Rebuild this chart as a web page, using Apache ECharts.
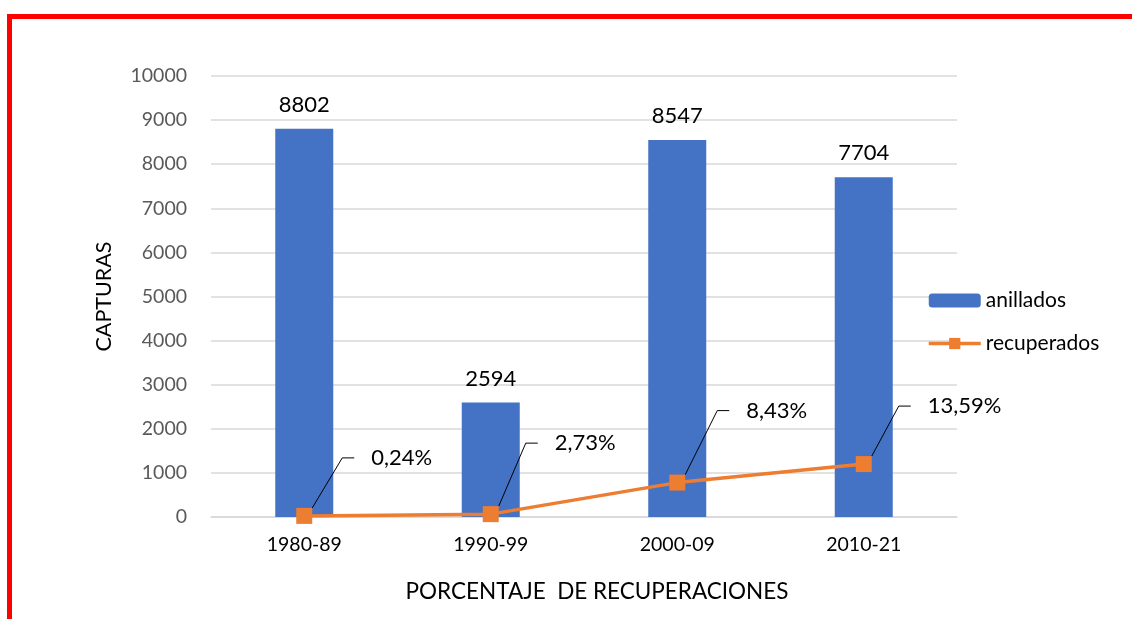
<!DOCTYPE html>
<html>
<head>
<meta charset="utf-8">
<script src="https://cdn.jsdelivr.net/npm/echarts@6/dist/echarts.min.js"></script>
<style>
  html, body { margin: 0; padding: 0; background: #fff; }
  #main { width: 1132px; height: 619px; position: relative; }
  .frame { position: absolute; left: 7px; top: 14px; width: 1200px; height: 700px;
           border-top: 5px solid #ff0000; border-left: 5px solid #ff0000; pointer-events: none; z-index: 5; }
</style>
</head>
<body>
<div style="position:relative;width:1132px;height:619px;overflow:hidden">
  <div id="main"></div>
  <div class="frame"></div>
</div>
<script>
// periodos
var categories = ['1980-89', '1990-99', '2000-09', '2010-21'];
// aves anilladas
var anillados = [8802, 2594, 8547, 7704];
// recuperadas
var recuperados = [25, 65, 780, 1200];
var porcentajes = ['0,24%', '2,73%', '8,43%', '13,59%'];
var yTicks = [0, 1000, 2000, 3000, 4000, 5000, 6000, 7000, 8000, 9000, 10000];

// desplazamiento de las etiquetas del porcentaje
var labelOffsets = [[37, -58], [34, -71], [39, -72], [34, -58]];

var myChart = echarts.init(document.getElementById('main'));
var font = 'Lato, "Open Sans", sans-serif';

var lineData = [];
for (var i = 0; i < recuperados.length; i++) {
    // espacios delante para separar el texto de la linea guia
    lineData.push({ value: recuperados[i], label: { formatter: '   ' + porcentajes[i] } });
}

var option = {
    backgroundColor: '#fff',
    textStyle: { fontFamily: font },
    grid: { left: 211, right: 175, top: 76, bottom: 102, containLabel: false },
    legend: {
        orient: 'vertical',
        left: 922,
        top: 285,
        itemWidth: 52,
        itemHeight: 14,
        itemGap: 22,
        lineStyle: { width: 3.5 },
        textStyle: { fontSize: 21, color: '#000', fontFamily: font },
        data: ['anillados', 'recuperados']
    },
    xAxis: {
        type: 'category',
        data: categories,
        axisLine: { lineStyle: { color: '#d9d9d9', width: 1.5 } },
        axisTick: { show: false },
        axisLabel: { color: '#000', fontSize: 19.5, margin: 18 },
        name: 'PORCENTAJE  DE RECUPERACIONES',
        nameLocation: 'middle',
        nameGap: 63,
        nameTextStyle: { color: '#000', fontSize: 22.5, padding: [0, 0, 0, 26] }
    },
    yAxis: {
        type: 'value',
        min: yTicks[0],
        max: yTicks[yTicks.length - 1],
        interval: 1000,
        axisLine: { show: false },
        axisTick: { show: false },
        splitLine: { lineStyle: { color: '#d9d9d9', width: 1.5 } },
        axisLabel: { color: '#595959', fontSize: 19.5, margin: 24, formatter: function (v) { return String(v); } },
        name: 'CAPTURAS',
        nameLocation: 'middle',
        nameGap: 96,
        nameTextStyle: { color: '#000', fontSize: 21.5 }
    },
    series: [
        {
            name: 'anillados',
            type: 'bar',
            barWidth: 58,
            itemStyle: { color: '#4472c4' },
            label: { show: true, position: 'top', distance: 13, color: '#000', fontSize: 22, fontFamily: font },
            data: anillados
        },
        {
            name: 'recuperados',
            type: 'line',
            symbol: 'rect',
            symbolSize: 16,
            lineStyle: { color: '#ed7d31', width: 3.5 },
            itemStyle: { color: '#ed7d31' },
            label: { show: true, position: 'right', color: '#000', fontSize: 22, fontFamily: font },
            labelLine: { show: true, length2: 12, lineStyle: { color: '#000', width: 1 } },
            labelLayout: function (params) {
                var o = labelOffsets[params.dataIndex];
                return { dx: o[0], dy: o[1] };
            },
            data: lineData
        }
    ]
};
myChart.setOption(option);
</script>
</body>
</html>
